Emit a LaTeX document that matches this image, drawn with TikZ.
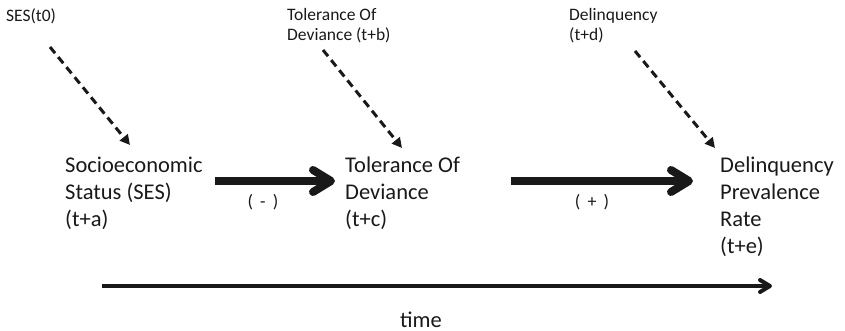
\documentclass[tikz,border=0pt]{standalone}
\usepackage{fontspec}
\setmainfont{Carlito}
\usetikzlibrary{arrows.meta,calc}
\begin{document}
\begin{tikzpicture}[x=1pt,y=-1pt,
  ink/.style={black!90},
  txt/.style={inner sep=0pt, align=left, anchor=base west, text=black!90},
  bigtxt/.style={txt, font=\fontsize{22.5}{27}\selectfont},
  smalltxt/.style={txt, font=\fontsize{17.5}{20}\selectfont},
  signtxt/.style={inner sep=0pt, anchor=base, text=black!90, font=\fontsize{18}{20}\selectfont},
  dasharrow/.style={ink, line width=3pt, dash pattern=on 8pt off 5pt,
    -{Triangle[length=10pt,width=10pt]}},
  bigarrow/.style={ink, line width=8pt,
    -{Straight Barb[length=18pt,width=22pt,round]}},
  timearrow/.style={ink, line width=4pt,
    -{Straight Barb[length=10pt,width=12pt,round]}},
]
\useasboundingbox (0,0) rectangle (845,331);

% earlier-time influences (anchored at the baseline of the last line)
\node[smalltxt] (ses0) at (6,22) {SES(t0)};
\node[smalltxt] (tolb) at (287,41) {Tolerance Of\\Deviance (t+b)};
\node[smalltxt] (delb) at (569,41) {Delinquency\\(t+d)};

% main chain
\node[bigtxt] (ses) at (65,226) {Socioeconomic\\Status (SES)\\(t+a)};
\node[bigtxt] (tol) at (345,226) {Tolerance Of\\Deviance\\(t+c)};
\node[bigtxt] (del) at (720,253) {Delinquency\\Prevalence\\Rate\\(t+e)};

% dashed lagged effects
\draw[dasharrow] ([shift={(44,25)}]ses0.base west) -- ([shift={(65,-81)}]ses.base west);
\draw[dasharrow] ([shift={(36,9)}]tolb.base west) -- ([shift={(57,-78)}]tol.base west);
\draw[dasharrow] ([shift={(66,10)}]delb.base west) -- ([shift={(-5,-105)}]del.base west);

% causal arrows with signs
\draw[bigarrow, shorten <=12pt, shorten >=10pt] (ses.east |- 0,181) -- (tol.west |- 0,181);
\draw[bigarrow, shorten <=51pt, shorten >=27pt] (tol.east |- 0,181) -- (del.west |- 0,181);
\node[signtxt] (neg) at (263,207) {( \,-\, )};
\node[signtxt] (pos) at (592,207) {( \,+\, )};

% time axis
\coordinate (t0) at (102,286);
\coordinate (t1) at (772,286);
\draw[timearrow] (t0) -- (t1);
\node[signtxt, font=\fontsize{22.5}{27}\selectfont] (time) at (421,327) {time};
\end{tikzpicture}
\end{document}
